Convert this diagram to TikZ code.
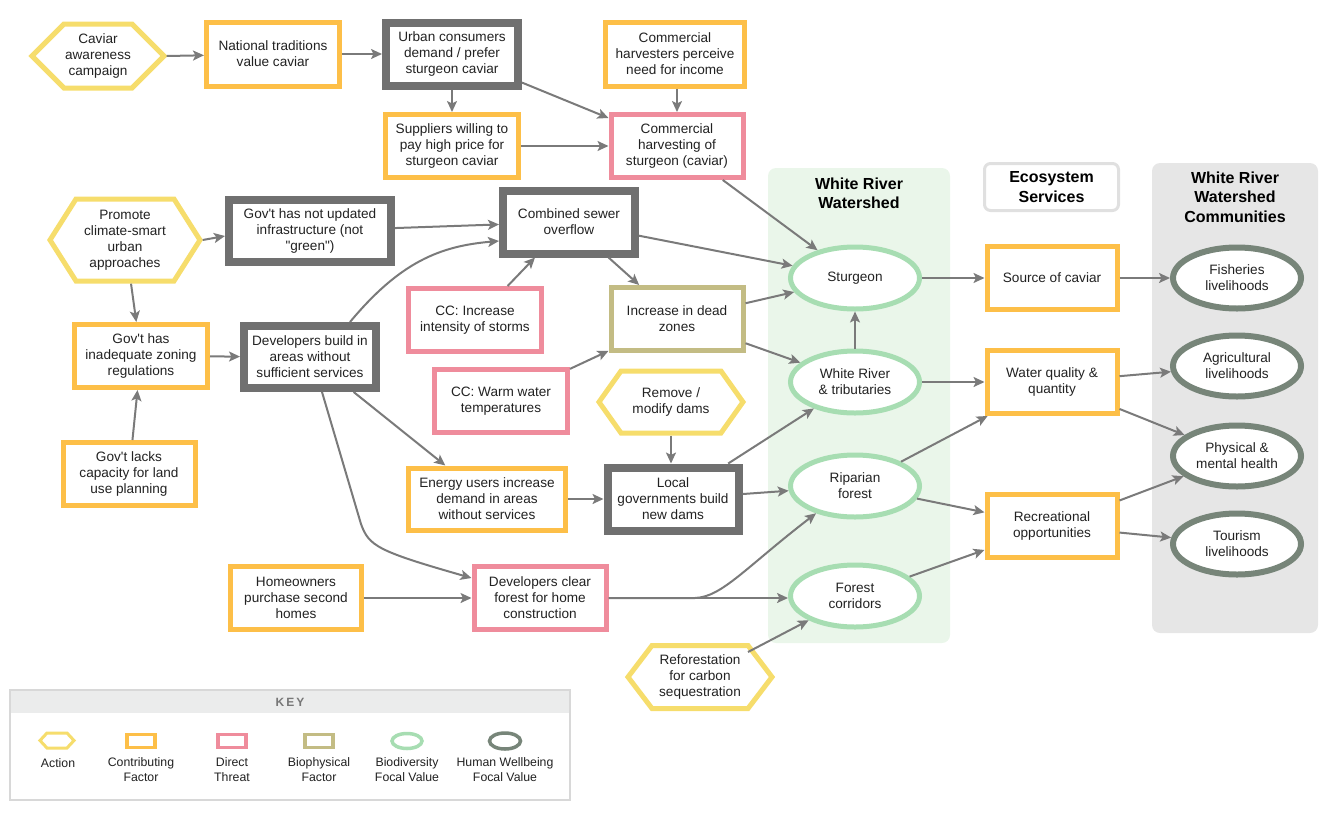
\documentclass[tikz,border=0pt]{standalone}
\usepackage{fontspec}
\setmainfont{Liberation Sans}[Ligatures=TeXOff]
\usetikzlibrary{shapes.geometric,arrows.meta,calc}

\definecolor{cAct}{HTML}{F6DD6C}
\definecolor{cCon}{HTML}{FDBF48}
\definecolor{cThr}{HTML}{EF8C9C}
\definecolor{cBio}{HTML}{C3BC84}
\definecolor{cBdv}{HTML}{A7DDB2}
\definecolor{cHum}{HTML}{778579}
\definecolor{cDrk}{HTML}{707070}
\definecolor{cArr}{HTML}{7A7A7A}
\definecolor{cPanG}{HTML}{EAF6EA}
\definecolor{cPanY}{HTML}{E6E6E6}
\definecolor{cKeyH}{HTML}{EBECEC}
\definecolor{cKeyB}{HTML}{D8D8D8}
\definecolor{cTxt}{HTML}{222222}
\definecolor{cKeyT}{HTML}{777777}

\newcommand\hexnode[7]{%
  \path[hexline] ({#2-#4/2},#3) -- ({#2-#4/2+#6},{#3-#5/2}) -- ({#2+#4/2-#6},{#3-#5/2}) -- ({#2+#4/2},#3) -- ({#2+#4/2-#6},{#3+#5/2}) -- ({#2-#4/2+#6},{#3+#5/2}) -- cycle;
  \node[lbl, minimum width=#4pt+5pt, minimum height=#5pt+5pt] (#1) at (#2,#3) {#7};}

\begin{document}
\begin{tikzpicture}[x=1pt,y=-1pt,
  font=\fontsize{13.6}{16}\selectfont, text=cTxt,
  lbl/.style={rectangle, align=center, inner sep=0pt},
  sz/.style 2 args={minimum width=#1pt, minimum height=#2pt},
  boxbase/.style={rectangle, fill=white, align=center, inner sep=0pt},
  contrib/.style={boxbase, draw=cCon, line width=5pt},
  threat/.style={boxbase, draw=cThr, line width=5pt},
  biophys/.style={boxbase, draw=cBio, line width=5pt},
  darkbox/.style={boxbase, draw=cDrk, line width=8pt},
  biodiv/.style={ellipse, draw=cBdv, fill=white, line width=5pt, align=center, inner sep=0pt},
  human/.style={ellipse, draw=cHum, fill=white, line width=6pt, align=center, inner sep=0pt},
  hexline/.style={draw=cAct, fill=white, line width=5pt, line join=miter},
  title/.style={align=center, inner sep=0pt, font=\fontsize{16}{19.5}\selectfont\bfseries, text=black},
  keylbl/.style={align=center, inner sep=0pt, font=\fontsize{12.3}{15}\selectfont},
  arr/.style={draw=cArr, line width=2pt, -{Stealth[length=11pt,width=10pt,inset=2.5pt]}}]

\useasboundingbox (0,0) rectangle (1333,817);

% panels
\fill[cPanG, rounded corners=8pt] (768,168) rectangle (950,643);
\fill[cPanY, rounded corners=8pt] (1152,163) rectangle (1318,633);
\node[title] (twr) at (859,193.5) {White River\\Watershed};
\node[title, draw=cKeyB!80, line width=3pt, rounded corners=6pt, fill=white, sz={134}{47}] (tes) at (1051.5,187) {Ecosystem\\Services};
\node[title] (twc) at (1235,197) {White River\\Watershed\\Communities};

% hexagons (actions)
\hexnode{caviar}{98}{56}{132}{64}{32}{Caviar\\awareness\\campaign}
\hexnode{promote}{125}{240}{150}{82}{26}{Promote\\climate-smart\\urban\\approaches}
\hexnode{remove}{671}{402}{144}{62}{22}{Remove /\\modify dams}
\hexnode{refor}{700}{677}{144}{63}{24}{Reforestation\\for carbon\\sequestration}

% boxes
\node[contrib, sz={133}{64}] (natl) at (273,54) {National traditions\\value caviar};
\node[darkbox, sz={132}{63}] (urban) at (452,54) {Urban consumers\\demand / prefer\\sturgeon caviar};
\node[contrib, sz={139}{64}] (harvp) at (675,54) {Commercial\\harvesters perceive\\need for income};
\node[contrib, sz={133}{63}] (suppl) at (452,146) {Suppliers willing to\\pay high price for\\sturgeon caviar};
\node[threat, sz={132}{63}] (charv) at (677,146) {Commercial\\harvesting of\\sturgeon (caviar)};

\node[darkbox, sz={162}{62}] (notupd) at (310,231) {Gov't has not updated\\infrastructure (not\\"green")};
\node[darkbox, sz={132}{63}] (cso) at (569,222) {Combined sewer\\overflow};
\node[threat, sz={133}{63}] (storms) at (475,320) {CC: Increase\\intensity of storms};
\node[biophys, sz={132}{63}] (dead) at (677,319) {Increase in dead\\zones};
\node[threat, sz={133}{63}] (warm) at (501,401) {CC: Warm water\\temperatures};
\node[contrib, sz={133}{63}] (zoning) at (141,356) {Gov't has\\inadequate zoning\\regulations};
\node[darkbox, sz={132}{62}] (devb) at (310,357) {Developers build in\\areas without\\sufficient services};
\node[contrib, sz={132}{63}] (lacks) at (129,474) {Gov't lacks\\capacity for land\\use planning};
\node[contrib, sz={157}{62}] (energy) at (487,499) {Energy users increase\\demand in areas\\without services};
\node[darkbox, sz={131}{63}] (localg) at (673,499) {Local\\governments build\\new dams};
\node[contrib, sz={131}{63}] (homeo) at (296,598) {Homeowners\\purchase second\\homes};
\node[threat, sz={132}{63}] (dclear) at (540,598) {Developers clear\\forest for home\\construction};

% focal values
\node[biodiv, sz={129}{62}] (sturg) at (855,278) {Sturgeon};
\node[biodiv, sz={129}{62}] (wr) at (855,382) {White River\\\& tributaries};
\node[biodiv, sz={129}{62}] (ripa) at (855,486) {Riparian\\forest};
\node[biodiv, sz={129}{62}] (forc) at (855,596) {Forest\\corridors};

% ecosystem services
\node[contrib, sz={130}{63}] (source) at (1052,278) {Source of caviar};
\node[contrib, sz={130}{63}] (water) at (1052,382) {Water quality \&\\quantity};
\node[contrib, sz={130}{63}] (recr) at (1052,526) {Recreational\\opportunities};

% communities
\node[human, sz={128}{61}] (fish) at (1237,278) {Fisheries\\livelihoods};
\node[human, sz={128}{61}] (agri) at (1237,366) {Agricultural\\livelihoods};
\node[human, sz={128}{61}] (phys) at (1237,456) {Physical \&\\mental health};
\node[human, sz={128}{61}] (tour) at (1237,544) {Tourism\\livelihoods};

% connectors
\draw[arr] (caviar.east) -- (natl);
\draw[arr] (natl) -- (urban);
\draw[arr] (urban) -- (suppl);
\draw[arr] (urban) -- (charv);
\draw[arr] (harvp.south -| charv) -- (charv);
\draw[arr] (suppl) -- (charv);
\draw[arr] (charv) -- (sturg);
\draw[arr] (promote.east) -- (notupd.west |- 0,236);
\draw[arr] (promote) -- (zoning);
\draw[arr] (lacks) -- (zoning);
\draw[arr] (zoning) -- (devb);
\draw[arr] (notupd) -- (cso);
\draw[arr] ([xshift=40pt]devb.north) .. controls (400,262) and (440,246) .. ([yshift=-19pt]cso.west);
\draw[arr] (storms) -- (cso);
\draw[arr] (cso) -- (sturg);
\draw[arr] (cso) -- (dead);
\draw[arr] (warm) -- (dead);
\draw[arr] (dead) -- (sturg);
\draw[arr] (dead) -- (wr);
\draw[arr] (devb) -- (energy);
\draw[arr] ([xshift=12pt]devb.south) -- (361,524) .. controls (369,546) and (377,551) .. ([yshift=20pt]dclear.west);
\draw[arr] (energy) -- (localg);
\draw[arr] (remove.south) -- (remove.south |- localg.north);
\draw[arr] (localg) -- (wr);
\draw[arr] (localg) -- (ripa);
\draw[arr] (homeo) -- (dclear);
\draw[arr] (dclear.east) -- (forc.west |- dclear.east);
\draw[arr] (dclear.east) -- (695,598) .. controls (722,597) and (745,568) .. (ripa.215);
\coordinate (referout) at (748,652);
\draw[arr] (referout) -- (forc);
\draw[arr] (wr) -- (sturg);
\draw[arr] (sturg) -- (source);
\draw[arr] (wr) -- (water);
\draw[arr] (ripa) -- (water);
\draw[arr] (ripa) -- (recr);
\draw[arr] (forc) -- (recr);
\draw[arr] (source) -- (fish);
\draw[arr] (water) -- (agri);
\draw[arr] (water) -- (phys);
\draw[arr] (recr) -- (phys);
\draw[arr] (recr) -- (tour);

% key
\draw[cKeyB, line width=1.5pt, fill=white] (10,690) rectangle (570,800);
\fill[cKeyH] (10.75,690.75) rectangle (569.25,713);
\node[inner sep=0pt, font=\fontsize{12}{14}\selectfont\bfseries, text=cKeyT] (keyt) at (290,702) {K\,E\,Y};
\path[hexline, line width=3pt] (40,740.5) -- (47,733) -- (67,733) -- (74,740.5) -- (67,748) -- (47,748) -- cycle;
\node[contrib, line width=3.5pt, sz={28}{13}] (kcon) at (141,741) {};
\node[threat, line width=3.5pt, sz={28}{13}] (kthr) at (232,741) {};
\node[biophys, line width=3.5pt, sz={28}{13}] (kbio) at (319,741) {};
\node[biodiv, line width=3.5pt, sz={30}{15}] (kbdv) at (407,741) {};
\node[human, line width=3.5pt, sz={31}{16}] (khum) at (505,741) {};
\node[keylbl] (lact) at (58,763) {Action};
\node[keylbl] (lcon) at (141,770) {Contributing\\Factor};
\node[keylbl] (lthr) at (232,770) {Direct\\Threat};
\node[keylbl] (lbio) at (319,770) {Biophysical\\Factor};
\node[keylbl] (lbdv) at (407,770) {Biodiversity\\Focal Value};
\node[keylbl] (lhum) at (505,770) {Human Wellbeing\\Focal Value};
\end{tikzpicture}
\end{document}
